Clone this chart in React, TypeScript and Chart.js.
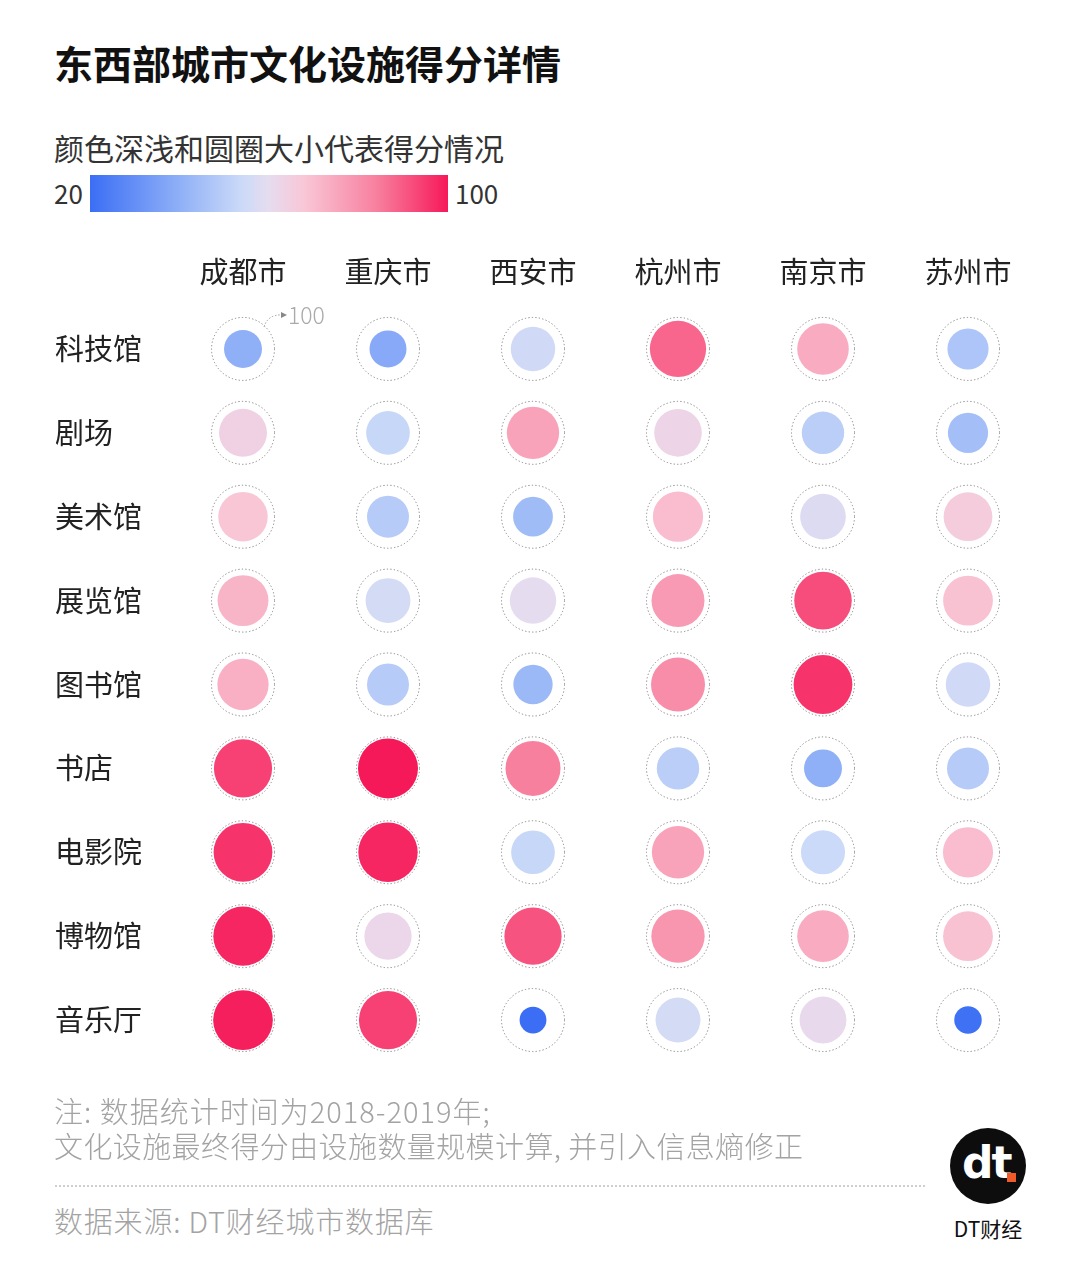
import React, { useEffect, useRef } from 'react';
import { Chart, registerables } from 'chart.js';

Chart.register(...registerables);

const FONT = '"Noto Sans CJK SC", "Noto Sans", sans-serif';

const title = '东西部城市文化设施得分详情';
const subtitle = '颜色深浅和圆圈大小代表得分情况';
const cities = ['成都市', '重庆市', '西安市', '杭州市', '南京市', '苏州市'];
const facilities = ['科技馆', '剧场', '美术馆', '展览馆', '图书馆', '书店', '电影院', '博物馆', '音乐厅'];

// scores per city, in facility order
const chengdu = [40, 64, 68, 72, 73, 94, 96, 98, 99];
const chongqing = [38, 53, 49, 56, 49, 100, 98, 62, 94];
const xian = [55, 76, 44, 60, 43, 84, 53, 91, 20];
const hangzhou = [88, 63, 70, 78, 81, 50, 76, 79, 56];
const nanjing = [74, 50, 58, 92, 96, 40, 54, 74, 61];
const suzhou = [47, 45, 66, 69, 55, 49, 70, 69, 21];
const cityScores = [chengdu, chongqing, xian, hangzhou, nanjing, suzhou];

const scaleMin = 20;
const scaleMax = 100;
const colorStops: [number, string][] = [
  [20, '#3b6ef5'],
  [40, '#8fb0f7'],
  [54, '#cbdaf8'],
  [60, '#e6dcef'],
  [68, '#f9c6d6'],
  [84, '#f8809f'],
  [100, '#f6195a'],
];

const noteLines = ['注: 数据统计时间为2018-2019年;', '文化设施最终得分由设施数量规模计算, 并引入信息熵修正'];
const sourceText = '数据来源: DT财经城市数据库';
const brandText = 'DT财经';

const MAX_R = 30;
const radiusFor = (v: number) => MAX_R * Math.sqrt(v / scaleMax);

function hexToRgb(h: string) {
  const n = parseInt(h.slice(1), 16);
  return [(n >> 16) & 255, (n >> 8) & 255, n & 255];
}
function colorFor(v: number) {
  for (let i = 0; i < colorStops.length - 1; i++) {
    const [a, ca] = colorStops[i];
    const [b, cb] = colorStops[i + 1];
    if (v <= b || i === colorStops.length - 2) {
      const t = Math.max(0, Math.min(1, (v - a) / (b - a)));
      const A = hexToRgb(ca);
      const B = hexToRgb(cb);
      const c = A.map((x, k) => Math.round(x + (B[k] - x) * t));
      return `rgb(${c[0]},${c[1]},${c[2]})`;
    }
  }
  return colorStops[colorStops.length - 1][1];
}

const ringPlugin = {
  id: 'rings',
  afterDatasetsDraw(chart: any) {
    const meta = chart.getDatasetMeta(0);
    const ctx = chart.ctx as CanvasRenderingContext2D;
    ctx.save();
    ctx.setLineDash([1.3, 2.2]);
    ctx.strokeStyle = '#858585';
    ctx.lineWidth = 1;
    const ringR = radiusFor(scaleMax) + 1.5;
    meta.data.forEach((el: any) => {
      ctx.beginPath();
      ctx.arc(el.x, el.y, ringR, 0, Math.PI * 2);
      ctx.stroke();
    });
    // "100" annotation on the first ring
    const first = meta.data[0];
    if (first) {
      const sx = first.x + 21;
      const sy = first.y - 22;
      const ex = first.x + 40;
      const ey = first.y - 34;
      ctx.setLineDash([1.5, 1.8]);
      ctx.strokeStyle = '#999';
      ctx.beginPath();
      ctx.moveTo(sx, sy);
      ctx.quadraticCurveTo(first.x + 25, first.y - 35, ex, ey);
      ctx.stroke();
      ctx.setLineDash([]);
      ctx.fillStyle = '#888';
      ctx.beginPath();
      ctx.moveTo(ex + 4, ey);
      ctx.lineTo(ex - 2, ey - 3);
      ctx.lineTo(ex - 2, ey + 3);
      ctx.closePath();
      ctx.fill();
      ctx.fillStyle = '#aaa';
      ctx.font = `300 23px ${FONT}`;
      ctx.textBaseline = 'middle';
      ctx.textAlign = 'left';
      ctx.fillText(String(scaleMax), first.x + 45, first.y - 34);
    }
    ctx.restore();
  },
};

export default function App() {
  const canvasRef = useRef<HTMLCanvasElement>(null);

  useEffect(() => {
    const points: any[] = [];
    cities.forEach((c, ci) => {
      facilities.forEach((f, fi) => {
        const v = cityScores[ci][fi];
        points.push({ x: c, y: f, r: radiusFor(v), v });
      });
    });
    const chart = new Chart(canvasRef.current as HTMLCanvasElement, {
      type: 'bubble',
      data: {
        datasets: [
          {
            data: points,
            backgroundColor: (ctx: any) => colorFor(ctx.raw ? ctx.raw.v : scaleMin),
            borderWidth: 0,
            hoverRadius: 0,
          } as any,
        ],
      },
      options: {
        animation: false,
        responsive: false,
        maintainAspectRatio: false,
        events: [],
        layout: { padding: { left: 55, right: 39.5, top: 0, bottom: 0 } },
        plugins: { legend: { display: false }, tooltip: { enabled: false } },
        scales: {
          x: {
            type: 'category',
            labels: cities,
            position: 'top',
            offset: true,
            grid: { display: false, drawTicks: false },
            border: { display: false },
            ticks: { font: { size: 29, family: FONT }, color: '#222', padding: 18 },
            afterFit: (s: any) => {
              s.height = 67;
            },
          },
          y: {
            type: 'category',
            labels: facilities,
            offset: true,
            grid: { display: false, drawTicks: false },
            border: { display: false },
            ticks: { font: { size: 29, family: FONT }, color: '#222', padding: 0, crossAlign: 'far' },
            afterFit: (s: any) => {
              s.width = 115.5;
            },
          },
        } as any,
      },
      plugins: [ringPlugin],
    });
    return () => chart.destroy();
  }, []);

  const gradient = `linear-gradient(to right, ${colorStops
    .map(([v, c]) => `${c} ${(((v - scaleMin) / (scaleMax - scaleMin)) * 100).toFixed(1)}%`)
    .join(', ')})`;

  const text = (
    content: string,
    left: number,
    centerY: number,
    size: number,
    color: string,
    weight: number | string = 400,
    extra: React.CSSProperties = {}
  ) => (
    <div
      style={{
        position: 'absolute',
        left,
        top: centerY - size / 2,
        fontSize: size,
        lineHeight: `${size}px`,
        color,
        fontWeight: weight as any,
        fontFamily: FONT,
        whiteSpace: 'nowrap',
        ...extra,
      }}
    >
      {content}
    </div>
  );

  return (
    <div
      style={{
        position: 'absolute',
        left: 0,
        top: 0,
        width: 1080,
        height: 1261,
        background: '#fff',
        overflow: 'hidden',
        fontFamily: FONT,
      }}
    >
      {text(title, 54, 62, 39, '#111', 700)}
      {text(subtitle, 54, 147, 30, '#333', 400)}
      {text(String(scaleMin), 54, 193, 26, '#333')}
      <div
        style={{ position: 'absolute', left: 90, top: 175, width: 358, height: 37, background: gradient }}
      />
      {text(String(scaleMax), 455, 193, 26, '#333')}
      <canvas
        ref={canvasRef}
        width={1080}
        height={852}
        style={{ position: 'absolute', left: 0, top: 240, width: 1080, height: 852 }}
      />
      {text(noteLines[0], 54, 1110, 29, '#a3a3a3', 300, { letterSpacing: 1 })}
      {text(noteLines[1], 54, 1145, 29, '#a3a3a3', 300, { letterSpacing: 0.4 })}
      <div
        style={{ position: 'absolute', left: 55, top: 1185, width: 870, height: 0, borderTop: '2px dotted #cfcfcf' }}
      />
      {text(sourceText, 54, 1220, 29, '#a3a3a3', 300, { letterSpacing: 0.8 })}
      <div
        style={{
          position: 'absolute',
          left: 950,
          top: 1128,
          width: 76,
          height: 76,
          borderRadius: '50%',
          background: '#0d0d0d',
        }}
      >
        <div
          style={{
            position: 'absolute',
            left: 12,
            top: 13,
            fontFamily: '"DejaVu Sans", sans-serif',
            fontWeight: 700,
            fontSize: 44,
            lineHeight: '44px',
            color: '#fff',
            letterSpacing: -2,
          }}
        >
          dt
        </div>
        <div style={{ position: 'absolute', left: 57, top: 45, width: 9, height: 9, background: '#f15a29' }} />
      </div>
      {text(brandText, 988, 1228, 21, '#111', 400, { transform: 'translateX(-50%)' })}
    </div>
  );
}
